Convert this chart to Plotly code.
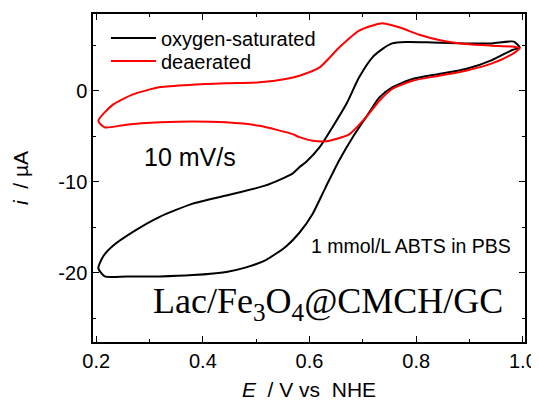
import plotly.graph_objects as go

# ---- data ----
ox_E = [0.994, 0.983, 0.942, 0.893, 0.830, 0.781, 0.755, 0.737, 0.718, 0.693, 0.669, 0.643, 0.619,
        0.594, 0.581, 0.568, 0.518, 0.444, 0.381, 0.319, 0.269, 0.232, 0.213, 0.204,
        0.216, 0.257, 0.319, 0.381, 0.444, 0.481, 0.518, 0.556, 0.581, 0.606, 0.631, 0.656,
        0.681, 0.706, 0.731, 0.755, 0.793, 0.843, 0.893, 0.942, 0.980, 0.994]
ox_i = [4.74, 5.40, 5.20, 5.20, 5.30, 5.35, 5.20, 4.60, 3.67, 1.47, -1.46, -4.00, -6.20,
        -7.80, -8.40, -9.10, -10.40, -11.50, -12.40, -13.85, -15.50, -17.00, -18.20, -19.50,
        -20.40, -20.40, -20.40, -20.25, -19.90, -19.40, -18.60, -17.10, -15.60, -13.50, -10.50, -7.60,
        -5.10, -2.90, -0.73, 0.37, 1.29, 1.84, 2.38, 3.37, 4.47, 4.74]

de_E = [0.204, 0.232, 0.269, 0.320, 0.381, 0.443, 0.506, 0.555, 0.581, 0.619, 0.656, 0.693, 0.734,
        0.768, 0.806, 0.843, 0.893, 0.942, 0.980, 0.994,
        0.980, 0.942, 0.893, 0.843, 0.793, 0.755, 0.731, 0.706, 0.675, 0.631, 0.606, 0.581,
        0.568, 0.506, 0.443, 0.381, 0.320, 0.256, 0.216, 0.204]
de_i = [-3.30, -1.50, -0.40, 0.40, 0.66, 0.81, 0.92, 1.28, 1.65, 2.57, 4.77, 6.60, 7.40,
        6.97, 6.15, 5.57, 5.13, 4.95, 4.85, 4.66,
        4.03, 3.00, 2.20, 1.65, 1.10, 0.19, -1.10, -2.90, -4.76, -5.56, -5.50, -5.10,
        -4.76, -3.85, -3.47, -3.37, -3.47, -3.73, -4.03, -3.30]

series_names = ["oxygen-saturated", "deaerated"]
x_ticks = [0.2, 0.4, 0.6, 0.8, 1.0]
x_ticklabels = ["0.2", "0.4", "0.6", "0.8", "1.0"]
y_ticks = [0, -10, -20]
y_ticklabels = ["0", "-10", "-20"]

SANS = "Liberation Sans, Arial, sans-serif"
SERIF = "Liberation Serif, Times New Roman, serif"

fig = go.Figure()
fig.add_trace(go.Scatter(x=ox_E, y=ox_i, mode="lines", name=series_names[0], legend="legend",
                         line=dict(color="black", width=2, shape="spline", smoothing=0.6)))
fig.add_trace(go.Scatter(x=de_E, y=de_i, mode="lines", name=series_names[1], legend="legend2",
                         line=dict(color="#ff0000", width=2, shape="spline", smoothing=0.6)))

axis_common = dict(showline=True, linecolor="black", linewidth=1.5, mirror="ticks",
                   ticks="inside", ticklen=6, tickwidth=1.2, tickcolor="black",
                   showgrid=False, zeroline=False, automargin=False,
                   tickfont=dict(family=SANS, size=20, color="black"))

fig.update_xaxes(range=[0.194, 1.004], tickvals=x_ticks, ticktext=x_ticklabels,
                 minor=dict(dtick=0.1, tick0=0.2, ticks="inside", ticklen=3, tickcolor="black"),
                 title=dict(text="<i>E</i>  / V vs  NHE", font=dict(family=SANS, size=21, color="black"),
                            standoff=12),
                 **axis_common)
fig.update_yaxes(range=[-27.6, 8.43], tickvals=y_ticks, ticktext=y_ticklabels,
                 minor=dict(dtick=5, tick0=0, ticks="inside", ticklen=3, tickcolor="black"),
                 title=dict(text="<i>i</i>  / µA", font=dict(family=SANS, size=21, color="black"),
                            standoff=24),
                 **axis_common)

fig.add_annotation(x=0.375, y=-7.3, xref="x", yref="y", text="10 mV/s", showarrow=False,
                   font=dict(family=SANS, size=25, color="black"))
fig.add_annotation(x=0.79, y=-17.1, xref="x", yref="y", text="1 mmol/L ABTS in PBS", showarrow=False,
                   font=dict(family=SANS, size=19.5, color="black"))
fig.add_annotation(x=0.6355, y=-23.4, xref="x", yref="y",
                   text="Lac/Fe<sub>3</sub>O<sub>4</sub>@CMCH/GC", showarrow=False,
                   font=dict(family=SERIF, size=36, color="black"))

legend_style = dict(xanchor="left", yanchor="middle", bgcolor="rgba(0,0,0,0)",
                    font=dict(family=SANS, size=20, color="black"), itemwidth=45)

# the page places the figure 8 px in from the top-left corner, so the figure
# is 8 px smaller and the left/top margins 8 px narrower to land the plot area
fig.update_layout(
    width=531, height=396,
    margin=dict(l=85, r=14, t=6, b=62, autoexpand=False),
    paper_bgcolor="white", plot_bgcolor="white",
    showlegend=True,
    legend=dict(x=0.03, y=0.927, **legend_style),
    legend2=dict(x=0.03, y=0.857, **legend_style),
)

fig.write_html("out.html")
